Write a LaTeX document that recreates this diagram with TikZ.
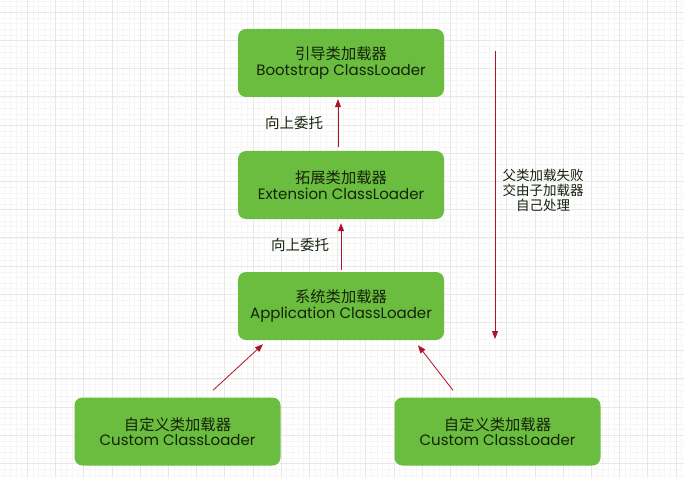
\documentclass[tikz,border=0pt]{standalone}
\usepackage{fontspec}
\setmainfont{Poppins}
\newfontfamily\cjk{Noto Sans CJK SC}
\usetikzlibrary{arrows.meta}
\definecolor{boxgreen}{RGB}{106,189,62}
\definecolor{txtdark}{RGB}{22,34,12}
\definecolor{arrred}{RGB}{176,16,42}
\tikzset{
  loader/.style={rectangle, rounded corners=8pt, fill=boxgreen, minimum width=206pt,
    minimum height=68pt, align=center, text=txtdark, font=\fontsize{15}{15.5}\selectfont},
  arr/.style={draw=arrred, line width=0.8pt, -{Triangle[length=8pt,width=6pt]}},
  note/.style={align=center, text=txtdark, font=\cjk\fontsize{13.5}{15}\selectfont}
}
\newcommand{\cjkline}[1]{{\cjk\fontsize{15.3}{15.5}\selectfont #1}}
\begin{document}
\begin{tikzpicture}[x=1pt,y=-1pt]
\useasboundingbox (0,0) rectangle (684,478);
% background grid
\fill[white] (0,0) rectangle (684,478);
\foreach \i in {0,...,125} {
  \draw[gray!7, line width=0.4pt] ({-1+5.64*\i},0) -- ({-1+5.64*\i},478);
}
\foreach \i in {0,...,85} {
  \draw[gray!7, line width=0.4pt] (0,{1+5.64*\i}) -- (684,{1+5.64*\i});
}
\foreach \i in {0,...,25} {
  \draw[gray!18, line width=0.5pt] ({-1+28.2*\i},0) -- ({-1+28.2*\i},478);
}
\foreach \i in {0,...,17} {
  \draw[gray!18, line width=0.5pt] (0,{12+28.2*\i}) -- (684,{12+28.2*\i});
}
% loaders
\node[loader] (boot) at (341,63) {\cjkline{引导类加载器}\\Bootstrap ClassLoader};
\node[loader] (ext) at (341,185) {\cjkline{拓展类加载器}\\Extension ClassLoader};
\node[loader] (app) at (341,306) {\cjkline{系统类加载器}\\Application ClassLoader};
\node[loader] (cl) at (177.5,431.5) {\cjkline{自定义类加载器}\\Custom ClassLoader};
\node[loader] (cr) at (497.5,431.5) {\cjkline{自定义类加载器}\\Custom ClassLoader};
% delegation upwards
\draw[arr] ([xshift=-3pt,yshift=4pt]ext.north) -- ([xshift=-3pt,yshift=-2pt]boot.south);
\draw[arr] ([yshift=2pt]app.north) -- ([yshift=-4pt]ext.south);
\draw[arr] ([xshift=35.5pt,yshift=7pt]cl.north) -- ([xshift=-78pt,yshift=-4pt]app.south);
\draw[arr] ([xshift=-44.5pt,yshift=7pt]cr.north) -- ([xshift=77pt,yshift=-5pt]app.south);
\node[note, font=\cjk\fontsize{14.5}{15}\selectfont] (up1) at (294,123) {向上委托};
\node[note, font=\cjk\fontsize{14.5}{15}\selectfont] (up2) at (300,245) {向上委托};
% fall back downwards
\coordinate (dtop) at (495,51);
\coordinate (dbot) at (495,339);
\draw[arr] (dtop) -- (dbot);
\node[note] (fail) at (543,190) {父类加载失败\\交由子加载器\\自己处理};
\end{tikzpicture}
\end{document}
